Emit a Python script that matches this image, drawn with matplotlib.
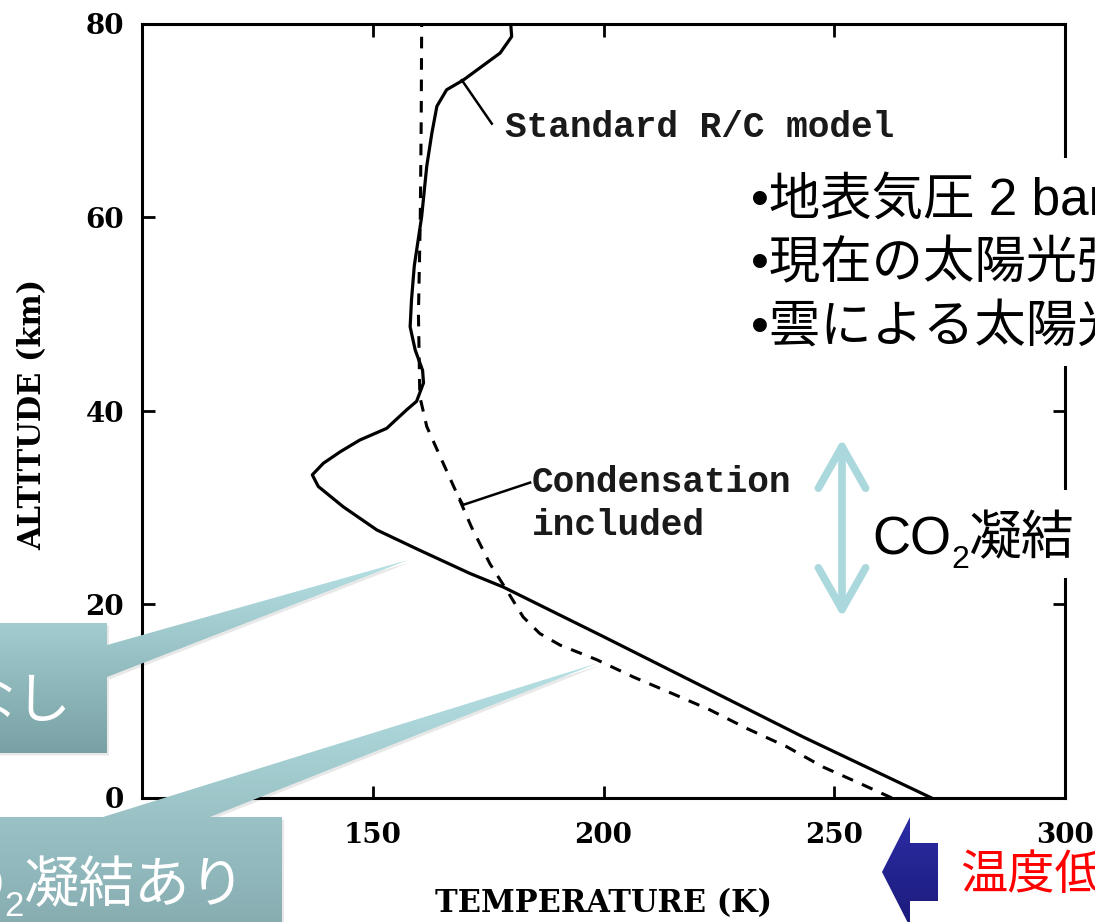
import numpy as np
import matplotlib
matplotlib.use("Agg")
import matplotlib.pyplot as plt
from matplotlib.patches import Polygon, Rectangle, FancyArrowPatch
from matplotlib.colors import LinearSegmentedColormap

# ---- temperature profiles (altitude in km, temperature in K) ----
# standard radiative/convective model
std_alt = [0.0, 2.2, 6.3, 11.5, 16.7, 21.8, 23.2, 25.6, 27.7, 30.1, 32.2, 33.4,
           34.6, 35.8, 37.0, 38.2, 40.1, 41.0, 42.9, 44.2, 46.3, 48.7, 51.5,
           55.0, 60.1, 65.3, 68.7, 71.5, 73.2, 74.2, 77.0, 78.7, 80.0]
std_temp = [271.1, 261.4, 243.3, 221.6, 199.9, 178.3, 171.1, 160.2, 150.9, 143.6,
            138.2, 136.9, 139.3, 143.0, 147.2, 153.0, 157.3, 159.5, 161.0, 160.8,
            159.2, 158.1, 158.4, 159.0, 160.6, 161.7, 162.8, 163.9, 166.0, 169.6,
            177.6, 180.1, 179.9]

# model with CO2 condensation included
cond_alt = [0.0, 1.5, 3.2, 5.3, 7.2, 9.1, 10.9, 12.5, 14.3, 15.8, 17.0, 18.7,
            21.5, 24.2, 28.0, 31.5, 35.3, 38.4, 41.5, 50.0, 60.0, 70.0, 80.0]
cond_temp = [262.5, 255.6, 247.6, 239.7, 231.0, 223.1, 214.4, 206.5, 198.5, 190.6,
             186.2, 182.6, 179.0, 175.4, 171.4, 168.2, 164.6, 161.7, 160.2, 159.9,
             160.3, 160.5, 160.6]

x_ticks = [150, 200, 250, 300]
y_ticks = [0, 20, 40, 60, 80]

conditions = ["•地表気圧 2 bar", "•現在の太陽光強度", "•雲による太陽光の反射"]

W, H = 1095, 922
fig = plt.figure(figsize=(W / 100, H / 100), dpi=100, facecolor="white")

# ---- main profile plot ----
ax = fig.add_axes([142 / W, 1 - 798 / H, 923 / W, 774 / H])
ax.plot(std_temp, std_alt, color="black", lw=2.3, solid_joinstyle="round")
ax.plot(cond_temp, cond_alt, color="black", lw=2.2, dashes=(3.8, 3.2))
ax.set_xlim(100, 300)
ax.set_ylim(0, 80)
ax.set_xticks(x_ticks)
ax.set_yticks(y_ticks)
for s in ax.spines.values():
    s.set_linewidth(2.2)
ax.tick_params(direction="in", length=9, width=2, top=True, right=True,
               labeltop=False, labelright=False)
ax.tick_params(axis="x", pad=17)
ax.tick_params(axis="y", pad=13)
for lab in ax.get_xticklabels() + ax.get_yticklabels():
    lab.set_fontfamily("DejaVu Serif")
    lab.set_fontweight("bold")
    lab.set_fontsize(20)

ax.set_xlabel("TEMPERATURE (K)", family="DejaVu Serif", weight="bold",
              size=22, va="center")
ax.xaxis.set_label_coords(0.5, -0.136)
ax.set_ylabel("ALTITUDE (km)", family="DejaVu Serif", weight="bold",
              size=22, va="center")
ax.yaxis.set_label_coords(-0.118, 0.495)

mono = dict(family="Liberation Mono", size=26, weight="bold", color="#1a1a1a")
ax.plot([169.3, 175.8], [74.2, 69.7], color="black", lw=1.8)
ax.text(178.7, 69.3, "Standard R/C model", ha="left", va="center", **mono)
ax.plot([168.9, 169.6, 184.1], [30.9, 30.3, 32.6], color="black", lw=1.8)
ax.text(184.5, 32.6, "Condensation", ha="left", va="center", **mono)
ax.text(184.5, 28.2, "included", ha="left", va="center", **mono)

# ---- slide annotations layer (pixel coordinates) ----
ov = fig.add_axes([0, 0, 1, 1], zorder=5)
ov.set_axis_off()
ov.patch.set_alpha(0)

jp = ["Liberation Sans", "Noto Sans CJK JP", "DejaVu Sans"]


def gradient_shape(verts, c_top, c_bot, z=2, shadow=True):
    verts = np.asarray(verts, float)
    if shadow:
        sh = Polygon(verts + [2.0, 2.5], closed=True, facecolor="#000000",
                     alpha=0.09, edgecolor="none", zorder=z - 0.5)
        ov.add_patch(sh)
    poly = Polygon(verts, closed=True, facecolor="none", edgecolor="none", zorder=z)
    ov.add_patch(poly)
    x0, x1 = verts[:, 0].min(), verts[:, 0].max()
    y0, y1 = verts[:, 1].min(), verts[:, 1].max()
    cmap = LinearSegmentedColormap.from_list("g", [c_top, c_bot])
    im = ov.imshow(np.linspace(0, 1, 256).reshape(-1, 1), cmap=cmap,
                   extent=(x0, x1, y1, y0), aspect="auto", zorder=z,
                   interpolation="bilinear")
    im.set_clip_path(poly)


# callout: without condensation
gradient_shape([(-5, 623), (107, 623), (107, 645), (408, 560), (107, 677),
                (107, 753), (-5, 753)], "#B6E1E4", "#79A1A5")
# callout: with condensation
gradient_shape([(-5, 817), (103, 817), (598, 663), (210, 817), (282, 817),
                (282, 930), (-5, 930)], "#B6E1E4", "#86ACB0")

# blue arrow pointing towards lower temperature
gradient_shape([(882, 872), (910, 817), (910, 843), (938, 843), (938, 901),
                (910, 901), (910, 927)], "#2C2CA6", "#1B1B7A", z=3, shadow=False)

# white panels
ov.add_patch(Rectangle((722, 158), 380, 208, facecolor="white",
                       edgecolor="none", zorder=1))
ov.add_patch(Rectangle((862, 490), 225, 88, facecolor="white",
                       edgecolor="none", zorder=1))

# light-blue double arrow marking the condensation layer
arr = FancyArrowPatch((842, 436), (842, 620),
                      arrowstyle="<->,head_length=1.5,head_width=0.85",
                      mutation_scale=20, color="#AAD8DC", lw=5.5,
                      capstyle="round", joinstyle="round", zorder=3)
ov.add_patch(arr)

ov.set_xlim(0, W)
ov.set_ylim(H, 0)

fig.canvas.draw()
renderer = fig.canvas.get_renderer()


def text_runs(x, y, runs, anchor="left", z=6):
    """Place consecutive text pieces on one baseline (pixel coords)."""
    objs = []
    for s, size, dy, color in runs:
        t = ov.text(0, y + dy, s, fontsize=size, color=color, family=jp,
                    ha="left", va="baseline", zorder=z)
        objs.append(t)
    widths = [t.get_window_extent(renderer=renderer).width for t in objs]
    start = x if anchor == "left" else x - sum(widths)
    for t, w in zip(objs, widths):
        t.set_x(start)
        start += w


for i, line in enumerate(conditions):
    ov.text(751, 201 + 63.5 * i, line, fontsize=37, family=jp, color="black",
            ha="left", va="center", zorder=6)

text_runs(872, 554, [("CO", 38, 0, "black"), ("2", 23, 14, "black"),
                     ("凝結", 38, 0, "black")])
text_runs(72, 718, [("CO", 40, 0, "white"), ("2", 25, 14, "white"),
                    ("凝結なし", 40, 0, "white")], anchor="right")
text_runs(246, 902, [("CO", 40, 0, "white"), ("2", 25, 14, "white"),
                     ("凝結あり", 40, 0, "white")], anchor="right")
ov.text(960, 877, "温度低下", fontsize=34, family=jp, color="#FF0000",
        ha="left", va="center", zorder=6)

fig.savefig("out.png", dpi=100, facecolor="white")
